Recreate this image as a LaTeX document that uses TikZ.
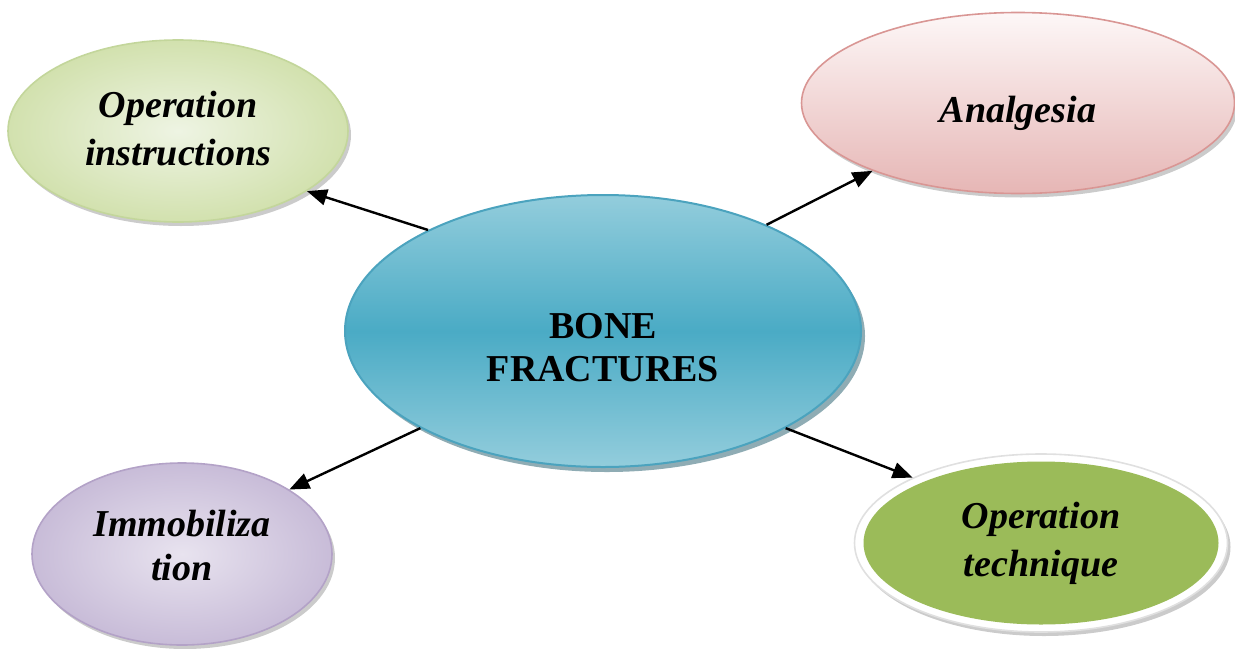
\documentclass[tikz,border=0pt]{standalone}
\usepackage{fontspec}
\setmainfont{Liberation Serif}
\usetikzlibrary{shapes.geometric,shadows,arrows.meta}

\definecolor{leafin}{HTML}{EEF4E3}
\definecolor{leafout}{HTML}{D2E1AE}
\definecolor{leafline}{HTML}{C3D69B}
\definecolor{rosetop}{HTML}{FDF7F7}
\definecolor{rosebot}{HTML}{E6B6B5}
\definecolor{roseline}{HTML}{D99694}
\definecolor{seamid}{HTML}{4AABC5}
\definecolor{seaedge}{HTML}{93CDDC}
\definecolor{sealine}{HTML}{4BA3BE}
\definecolor{seashade}{HTML}{1F5A6A}
\definecolor{lilacin}{HTML}{E8E3EF}
\definecolor{lilacout}{HTML}{C8BCD8}
\definecolor{lilacline}{HTML}{B3A2C7}
\definecolor{olive}{HTML}{9BBB59}

\begin{document}
\begin{tikzpicture}[x=0.5pt,y=-0.5pt,
  every node/.style={font=\fontsize{19}{23}\selectfont\bfseries\itshape},
  bubble/.style={ellipse,inner sep=0pt,line width=0.8pt},
  softshade/.style={drop shadow={shadow xshift=1.5pt,shadow yshift=-2pt,fill=black!45,opacity=0.45}},
  link/.style={-{Triangle[length=10pt,width=8pt]},line width=1.2pt}]
\useasboundingbox (0,0) rectangle (1235,648);

% satellite ellipses
\node[bubble,softshade,shading=radial,inner color=leafin,outer color=leafout,draw=leafline,
  minimum width=170pt,minimum height=91pt,
  label={[align=center,yshift=1pt,font=\fontsize{19}{24}\selectfont\bfseries\itshape]center:Operation\\instructions}]
  (tl) at (178,131) {};
\node[bubble,softshade,top color=rosetop,bottom color=rosebot,draw=roseline,
  minimum width=216.5pt,minimum height=90.5pt,
  label={[yshift=-5pt]center:Analgesia}]
  (tr) at (1018,103) {};
\node[bubble,softshade,shading=radial,inner color=lilacin,outer color=lilacout,draw=lilacline,
  minimum width=150pt,minimum height=91pt,
  label={[align=center,yshift=4.5pt,font=\fontsize{19}{22}\selectfont\bfseries\itshape]center:Immobiliza\\tion}]
  (bl) at (182,554) {};
\node[bubble,softshade,fill=white,draw=black!12,
  minimum width=186.5pt,minimum height=89pt] (brring) at (1041,543) {};
\node[bubble,fill=olive,
  minimum width=177.5pt,minimum height=81.5pt,
  label={[align=center,font=\fontsize{19}{24}\selectfont\bfseries\itshape]center:Operation\\technique}]
  (br) at (1041,543) {};

% central ellipse
\node[bubble,top color=seaedge,bottom color=seaedge,middle color=seamid,draw=sealine,line width=1pt,
  drop shadow={shadow xshift=2pt,shadow yshift=-2.5pt,fill=seashade},
  minimum width=258pt,minimum height=136pt,
  label={[align=center,yshift=-8.5pt,font=\fontsize{19}{21.5}\selectfont\bfseries]center:BONE\\FRACTURES}]
  (c) at (603,331) {};

% connectors
\draw[link] (c.150) -- (tl.-25);
\draw[link] (c.33) -- (tr.205);
\draw[link] (c.208) -- (bl.31);
\draw[link] (c.-28) -- (brring.153);
\end{tikzpicture}
\end{document}
